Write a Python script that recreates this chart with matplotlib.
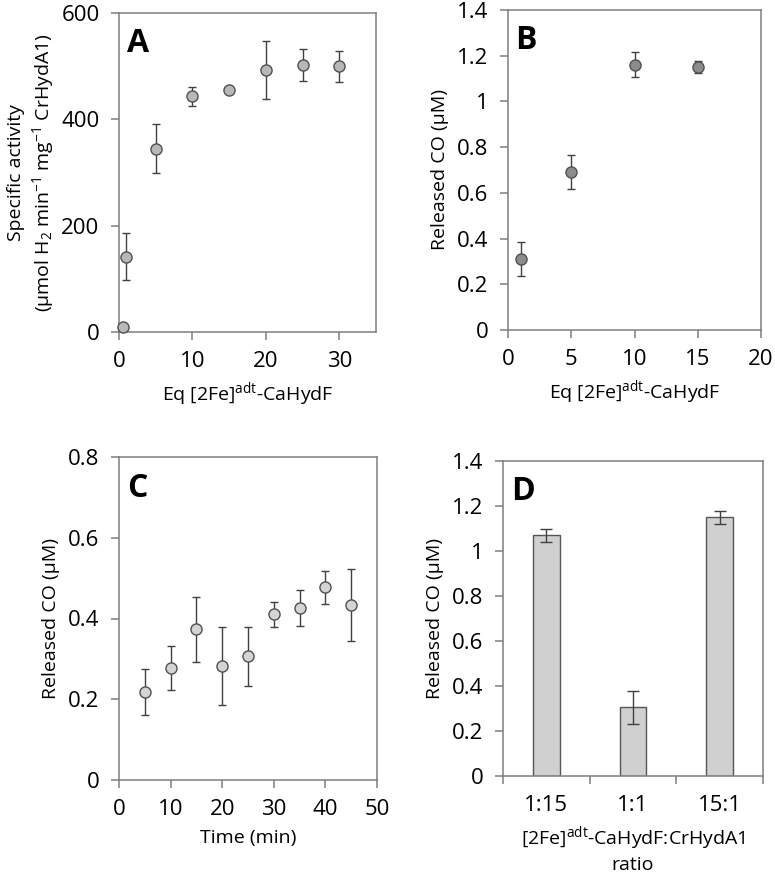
import matplotlib
matplotlib.use("Agg")
import matplotlib.pyplot as plt
import numpy as np

plt.rcParams["font.family"] = ["Open Sans", "DejaVu Sans"]
plt.rcParams["mathtext.fontset"] = "custom"
plt.rcParams["mathtext.rm"] = "Open Sans"
plt.rcParams["mathtext.it"] = "Open Sans"

# Panel A : activite specifique vs equivalents
eq_a = [0.5, 1, 5, 10, 15, 20, 25, 30]
act_a = [10, 142, 345, 443, 455, 493, 502, 500]
err_a = [0, 45, 46, 17, 0, 55, 30, 29]

# Panel B : CO libere vs equivalents
eq_b = [1, 5, 10, 15]
co_b = [0.31, 0.69, 1.16, 1.15]
err_b = [0.075, 0.075, 0.055, 0.025]

# Panel C : CO libere vs temps
time_c = [5, 10, 15, 20, 25, 30, 35, 40, 45]
co_c = [0.218, 0.277, 0.373, 0.283, 0.306, 0.410, 0.426, 0.477, 0.434]
err_c = [0.057, 0.055, 0.080, 0.097, 0.074, 0.030, 0.045, 0.040, 0.089]

# Panel D : CO libere selon le ratio
ratios_d = ["1:15", "1:1", "15:1"]
co_d = [1.07, 0.305, 1.15]
err_d = [0.03, 0.075, 0.028]

W, H = 775, 883
fig = plt.figure(figsize=(W / 100, H / 100), dpi=100)


def add_ax(left, top, right, bottom):
    return fig.add_axes([left / W, 1 - bottom / H, (right - left) / W,
                         (bottom - top) / H])


SPINE = "#7f7f7f"
TICK_FS = 16
LAB_FS = 14


def style(ax, letter):
    for s in ax.spines.values():
        s.set_color(SPINE)
        s.set_linewidth(1.1)
    ax.tick_params(direction="out", length=6, width=1.1, color=SPINE,
                   labelsize=TICK_FS)
    ax.tick_params(axis="x", pad=8)
    ax.tick_params(axis="y", pad=8)
    ax.text(0.03, 0.955, letter, transform=ax.transAxes, fontsize=23,
            fontweight="bold", va="top", ha="left")


def scatter_err(ax, x, y, e, fc):
    ax.errorbar(x, y, yerr=e, fmt="o", ms=8, mfc=fc, mec="#505050", mew=1,
                ecolor="#404040", elinewidth=1, capsize=3, capthick=1,
                zorder=3, clip_on=False)


# ---- A ----
axA = add_ax(119, 13, 376, 332)
scatter_err(axA, eq_a, act_a, err_a, "#b8b8b8")
axA.set_xlim(0, 35)
axA.set_ylim(0, 600)
axA.set_xticks([0, 10, 20, 30])
axA.set_yticks([0, 200, 400, 600])
axA.set_xlabel("Eq [2Fe]$^{\\mathrm{adt}}$-CaHydF", fontsize=LAB_FS, labelpad=6)
axA.set_ylabel("Specific activity\n(µmol H$_2$ min$^{-1}$ mg$^{-1}$ CrHydA1)",
               fontsize=LAB_FS, labelpad=4, linespacing=1.25)
style(axA, "A")

# ---- B ----
axB = add_ax(508, 10, 761, 330)
scatter_err(axB, eq_b, co_b, err_b, "#8c8c8c")
axB.set_xlim(0, 20)
axB.set_ylim(0, 1.4)
axB.set_xticks([0, 5, 10, 15, 20])
axB.set_yticks(np.arange(0, 1.41, 0.2))
axB.set_yticklabels(["0", "0.2", "0.4", "0.6", "0.8", "1", "1.2", "1.4"])
axB.set_xlabel("Eq [2Fe]$^{\\mathrm{adt}}$-CaHydF", fontsize=LAB_FS, labelpad=6)
axB.set_ylabel("Released CO (µM)", fontsize=LAB_FS, labelpad=6)
style(axB, "B")

# ---- C ----
axC = add_ax(119, 457, 377, 780)
scatter_err(axC, time_c, co_c, err_c, "#d4d4d4")
axC.set_xlim(0, 50)
axC.set_ylim(0, 0.8)
axC.set_xticks([0, 10, 20, 30, 40, 50])
axC.set_yticks([0, 0.2, 0.4, 0.6, 0.8])
axC.set_yticklabels(["0", "0.2", "0.4", "0.6", "0.8"])
axC.set_xlabel("Time (min)", fontsize=LAB_FS, labelpad=6)
axC.set_ylabel("Released CO (µM)", fontsize=LAB_FS, labelpad=6)
style(axC, "C")

# ---- D ----
axD = add_ax(503, 461, 763, 776)
xd = np.arange(len(ratios_d))
axD.bar(xd, co_d, width=0.31, color="#d0d0d0", edgecolor="#555555",
        linewidth=1, yerr=err_d, error_kw=dict(ecolor="#404040", elinewidth=1,
                                                 capsize=4, capthick=1))
axD.set_xlim(-0.5, 2.5)
axD.set_ylim(0, 1.4)
axD.set_xticks(xd)
axD.set_xticklabels(ratios_d)
axD.set_xticks(np.arange(-0.5, 2.6, 1), minor=True)
axD.set_yticks(np.arange(0, 1.41, 0.2))
axD.set_yticklabels(["0", "0.2", "0.4", "0.6", "0.8", "1", "1.2", "1.4"])
axD.set_xlabel("[2Fe]$^{\\mathrm{adt}}$-CaHydF:CrHydA1\nratio",
               fontsize=LAB_FS, labelpad=6, linespacing=1.3)
axD.set_ylabel("Released CO (µM)", fontsize=LAB_FS, labelpad=6)
style(axD, "D")
axD.tick_params(axis="x", which="major", length=0, pad=14)
axD.tick_params(axis="x", which="minor", direction="out", length=6,
                width=1.1, color=SPINE)

fig.savefig("out.png", dpi=100)
